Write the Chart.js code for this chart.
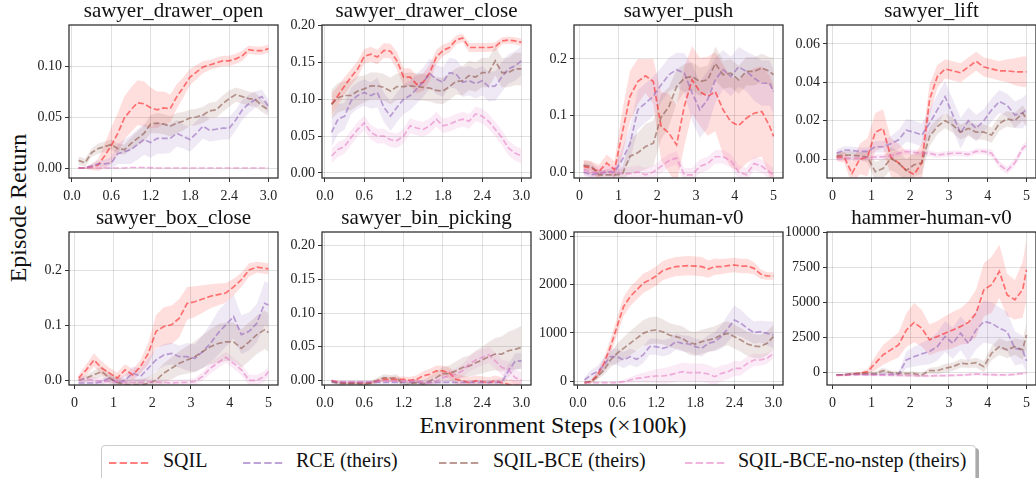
<!DOCTYPE html>
<html>
<head>
<meta charset="utf-8">
<script src="https://cdn.jsdelivr.net/npm/chart.js@4.4.0/dist/chart.umd.min.js"></script>
<style>
  html, body { margin: 0; padding: 0; background: #fff; width: 1036px; height: 478px; overflow: hidden; position: relative; }
  body { font-family: "Liberation Serif", serif; color: #111; }
  canvas { position: absolute; }
  #ylab { position: absolute; left: 18px; top: 208px; font-size: 24px; white-space: nowrap; transform: translate(-50%, -50%) rotate(-90deg); }
  #xlab { position: absolute; left: 553px; top: 425px; font-size: 24px; white-space: nowrap; transform: translate(-50%, -50%); }
  #legend { position: absolute; left: 101px; top: 445px; width: 873px; height: 44px; border: 1px solid #ccc; border-radius: 4px; box-shadow: 3px 3px 0 #aaa; background: #fff; }
  .lg-line { position: absolute; top: 15px; }
  .lg-text { position: absolute; top: 3px; font-size: 20px; white-space: nowrap; color: #111; }
</style>
</head>
<body>
<div id="ylab">Episode Return</div>
<div id="xlab">Environment Steps (×100k)</div>
<div id="legend"></div>
<script>
// series, in legend order
const SERIES = ["SQIL", "RCE (theirs)", "SQIL-BCE (theirs)", "SQIL-BCE-no-nstep (theirs)"];
const LINE = ["rgba(255,0,0,0.5)", "rgba(148,103,189,0.6)", "rgba(140,86,75,0.6)", "rgba(227,119,194,0.55)"];
const BAND = ["rgba(255,0,0,0.13)", "rgba(148,103,189,0.15)", "rgba(140,86,75,0.15)", "rgba(227,119,194,0.15)"];

// x positions (x100k steps)
const xs3 = [0.1,0.2,0.3,0.4,0.5,0.6,0.7,0.8,0.9,1.0,1.1,1.2,1.3,1.4,1.5,1.6,1.7,1.8,1.9,2.0,2.1,2.2,2.3,2.4,2.5,2.6,2.7,2.8,2.9,3.0];
const xs5 = [0.1,0.3,0.5,0.7,0.9,1.1,1.3,1.5,1.7,1.9,2.1,2.3,2.5,2.7,2.9,3.1,3.3,3.5,3.7,3.9,4.1,4.3,4.5,4.7,4.9,5.0];

// tick labels
const xTicks3 = ["0.0", "0.6", "1.2", "1.8", "2.4", "3.0"];
const xTicks5 = ["0", "1", "2", "3", "4", "5"];

// ---- sawyer_drawer_open (SQIL, RCE, SQIL-BCE, no-nstep)
const openMean = [
  [0,0,0.001,0.003,0.012,0.022,0.034,0.049,0.057,0.064,0.063,0.059,0.057,0.059,0.058,0.070,0.079,0.089,0.094,0.099,0.101,0.103,0.105,0.105,0.107,0.110,0.116,0.115,0.115,0.117],
  [0,0,0.002,0.004,0.004,0.005,0.014,0.016,0.018,0.023,0.028,0.025,0.029,0.029,0.029,0.034,0.031,0.028,0.034,0.041,0.037,0.038,0.039,0.039,0.047,0.057,0.063,0.067,0.070,0.060],
  [0.0075,0.005,0.015,0.019,0.021,0.023,0.019,0.018,0.024,0.029,0.034,0.043,0.044,0.043,0.041,0.044,0.046,0.049,0.050,0.052,0.056,0.057,0.063,0.068,0.072,0.070,0.068,0.067,0.061,0.057],
  [0,0,0,0,0,0,0,0,0.0005,0.0005,0.0005,0.0003,0,0,0,0,0,0,0,0,0,0,0,0,0,0,0,0,0,0]
];
const openStd = [
  [0.001,0.001,0.003,0.006,0.012,0.018,0.02,0.021,0.022,0.022,0.022,0.02,0.018,0.016,0.014,0.012,0.01,0.008,0.007,0.006,0.005,0.005,0.005,0.005,0.005,0.005,0.004,0.004,0.004,0.004],
  [0.001,0.001,0.002,0.003,0.004,0.006,0.01,0.012,0.014,0.015,0.015,0.015,0.015,0.015,0.014,0.013,0.012,0.012,0.012,0.012,0.011,0.011,0.011,0.011,0.01,0.01,0.009,0.008,0.007,0.007],
  [0.004,0.004,0.004,0.005,0.005,0.005,0.005,0.005,0.006,0.007,0.008,0.009,0.01,0.01,0.01,0.01,0.009,0.008,0.008,0.008,0.008,0.008,0.008,0.008,0.007,0.007,0.007,0.007,0.006,0.006],
  [0.0005,0.0005,0.0005,0.0005,0.0005,0.0005,0.0005,0.0005,0.0005,0.0005,0.0005,0.0005,0.0005,0.0005,0.0005,0.0005,0.0005,0.0005,0.0005,0.0005,0.0005,0.0005,0.0005,0.0005,0.0005,0.0005,0.0005,0.0005,0.0005,0.0005]
];

// ---- sawyer_drawer_close
const closeMean = [
  [0.093,0.105,0.118,0.130,0.141,0.158,0.161,0.157,0.166,0.165,0.152,0.130,0.130,0.120,0.123,0.136,0.157,0.166,0.170,0.180,0.183,0.170,0.170,0.170,0.170,0.171,0.179,0.180,0.179,0.177],
  [0.055,0.073,0.077,0.098,0.105,0.109,0.105,0.109,0.089,0.077,0.089,0.100,0.105,0.114,0.123,0.135,0.127,0.123,0.136,0.134,0.123,0.125,0.121,0.125,0.117,0.118,0.130,0.141,0.145,0.152],
  [0.093,0.102,0.105,0.105,0.111,0.114,0.118,0.118,0.116,0.111,0.117,0.117,0.118,0.117,0.116,0.115,0.112,0.111,0.117,0.124,0.125,0.132,0.130,0.136,0.136,0.152,0.136,0.136,0.141,0.141],
  [0.023,0.032,0.036,0.048,0.059,0.068,0.055,0.050,0.050,0.045,0.044,0.050,0.064,0.061,0.059,0.064,0.073,0.064,0.066,0.070,0.073,0.070,0.080,0.077,0.070,0.059,0.048,0.034,0.027,0.023]
];
const closeStd = [
  [0.015,0.013,0.012,0.011,0.011,0.01,0.01,0.01,0.01,0.01,0.012,0.012,0.012,0.012,0.012,0.011,0.01,0.008,0.007,0.006,0.006,0.006,0.006,0.006,0.006,0.006,0.005,0.005,0.005,0.005],
  [0.02,0.02,0.018,0.018,0.018,0.018,0.018,0.02,0.02,0.02,0.02,0.02,0.02,0.02,0.02,0.02,0.02,0.02,0.02,0.02,0.02,0.02,0.02,0.02,0.02,0.02,0.02,0.02,0.02,0.02],
  [0.02,0.02,0.02,0.02,0.02,0.018,0.018,0.018,0.018,0.018,0.018,0.018,0.018,0.018,0.018,0.018,0.018,0.018,0.018,0.018,0.02,0.02,0.02,0.02,0.02,0.02,0.02,0.02,0.022,0.022],
  [0.01,0.01,0.01,0.01,0.01,0.01,0.01,0.01,0.01,0.01,0.01,0.01,0.01,0.01,0.01,0.01,0.01,0.01,0.01,0.01,0.01,0.01,0.01,0.01,0.01,0.01,0.01,0.01,0.01,0.01]
];

// ---- sawyer_push
const pushMean = [
  [0.01,0.007,0.001,0.016,0.004,0.069,0.134,0.16,0.17,0.16,0.081,0.069,0.048,0.116,0.163,0.142,0.134,0.142,0.11,0.089,0.082,0.095,0.104,0.107,0.081,0.063],
  [0.0,-0.005,-0.002,0.0,0.0,0.022,0.05,0.11,0.122,0.134,0.154,0.172,0.181,0.175,0.14,0.11,0.128,0.163,0.181,0.169,0.186,0.178,0.166,0.157,0.157,0.142],
  [0.012,0.01,-0.005,-0.005,-0.005,-0.004,0.028,0.034,0.045,0.051,0.097,0.115,0.151,0.166,0.169,0.16,0.163,0.192,0.172,0.175,0.163,0.178,0.178,0.184,0.178,0.172],
  [0.005,0.0,-0.002,0.0,0.0,-0.003,-0.003,0.0,-0.005,0.0,0.01,0.02,0.025,-0.005,-0.005,0.01,0.015,0.027,0.027,0.02,0.0,-0.005,0.015,0.01,0.0,-0.005]
];
const pushStd = [
  [0.012,0.012,0.012,0.015,0.015,0.04,0.045,0.04,0.03,0.04,0.06,0.07,0.07,0.07,0.06,0.06,0.07,0.07,0.08,0.08,0.08,0.08,0.08,0.08,0.09,0.09],
  [0.005,0.005,0.005,0.005,0.008,0.02,0.03,0.035,0.035,0.035,0.03,0.03,0.03,0.035,0.05,0.05,0.05,0.04,0.035,0.035,0.035,0.035,0.04,0.04,0.04,0.04],
  [0.008,0.008,0.008,0.008,0.008,0.01,0.03,0.035,0.04,0.04,0.04,0.035,0.03,0.025,0.025,0.025,0.025,0.03,0.025,0.025,0.025,0.025,0.025,0.025,0.025,0.03],
  [0.012,0.012,0.012,0.012,0.012,0.012,0.012,0.012,0.012,0.012,0.012,0.012,0.012,0.012,0.012,0.012,0.012,0.012,0.012,0.012,0.012,0.012,0.012,0.012,0.012,0.012]
];

// ---- sawyer_lift
const liftMean = [
  [0.001,0.001,-0.0075,0.0,0.001,0.014,0.016,0.001,-0.002,-0.006,-0.008,-0.002,0.031,0.043,0.047,0.046,0.045,0.048,0.051,0.048,0.047,0.046,0.046,0.0455,0.0455,0.0455],
  [0.003,0.0047,0.0044,0.004,0.004,0.0064,0.0064,0.008,0.010,0.015,0.014,0.0125,0.0186,0.0256,0.0325,0.023,0.0134,0.020,0.016,0.020,0.0256,0.030,0.028,0.023,0.024,0.026],
  [0.0016,0.002,0.002,0.0016,0.001,-0.0066,-0.005,0.0003,-0.002,-0.006,-0.003,-0.002,0.0117,0.0169,0.020,0.0177,0.014,0.016,0.014,0.014,0.0125,0.0186,0.021,0.020,0.024,0.021],
  [0.0003,0.0005,0.0005,0.0005,0.0007,0.001,0.0012,0.0016,0.003,0.004,0.0035,0.003,0.003,0.002,0.0026,0.003,0.003,0.0024,0.004,0.004,0.003,-0.003,-0.006,-0.002,0.0056,0.0073]
];
const liftStd = [
  [0.002,0.003,0.006,0.008,0.01,0.01,0.01,0.01,0.01,0.01,0.01,0.01,0.008,0.006,0.005,0.005,0.005,0.005,0.005,0.005,0.005,0.005,0.006,0.007,0.008,0.008],
  [0.002,0.002,0.002,0.002,0.002,0.003,0.003,0.004,0.005,0.006,0.006,0.006,0.007,0.008,0.008,0.008,0.008,0.007,0.007,0.006,0.006,0.006,0.006,0.007,0.008,0.008],
  [0.002,0.002,0.002,0.002,0.003,0.005,0.005,0.006,0.006,0.006,0.006,0.006,0.005,0.004,0.004,0.004,0.004,0.004,0.004,0.004,0.004,0.004,0.004,0.004,0.004,0.004],
  [0.0015,0.0015,0.0015,0.0015,0.0015,0.0015,0.0015,0.0015,0.0015,0.0015,0.0015,0.0015,0.0015,0.0015,0.0015,0.0015,0.0015,0.0015,0.0015,0.0015,0.002,0.002,0.002,0.002,0.002,0.002]
];

// ---- sawyer_box_close
const boxMean = [
  [0.004,0.019,0.037,0.022,0.013,0.004,0.019,0.01,0.025,0.049,0.089,0.098,0.101,0.113,0.140,0.143,0.148,0.153,0.156,0.159,0.170,0.183,0.201,0.206,0.204,0.203],
  [-0.005,-0.005,-0.005,-0.003,0.004,-0.005,0.0,0.013,0.007,0.022,0.037,0.046,0.049,0.043,0.043,0.040,0.052,0.067,0.086,0.101,0.116,0.083,0.089,0.104,0.140,0.137],
  [0.0,0.004,0.01,0.016,0.004,-0.004,-0.008,-0.008,-0.008,-0.006,0.0,0.013,0.022,0.031,0.037,0.043,0.052,0.061,0.067,0.07,0.07,0.058,0.07,0.083,0.092,0.087],
  [0.0,0.002,0.0,-0.002,-0.002,-0.002,-0.003,-0.004,-0.004,-0.003,-0.003,-0.004,-0.005,-0.004,-0.004,-0.002,0.007,0.022,0.032,0.042,0.031,0.019,0.0,0.0,0.007,0.016]
];
const boxStd = [
  [0.005,0.01,0.012,0.012,0.01,0.01,0.01,0.01,0.012,0.02,0.03,0.035,0.035,0.035,0.03,0.028,0.025,0.022,0.02,0.018,0.015,0.013,0.012,0.01,0.01,0.01],
  [0.004,0.004,0.004,0.005,0.006,0.008,0.01,0.012,0.015,0.018,0.02,0.02,0.02,0.02,0.025,0.025,0.03,0.035,0.04,0.04,0.04,0.035,0.035,0.035,0.04,0.04],
  [0.004,0.006,0.008,0.01,0.01,0.01,0.01,0.01,0.01,0.012,0.015,0.018,0.02,0.022,0.025,0.028,0.03,0.032,0.035,0.035,0.035,0.035,0.035,0.035,0.035,0.035],
  [0.006,0.006,0.006,0.006,0.006,0.006,0.006,0.006,0.006,0.006,0.006,0.006,0.006,0.006,0.006,0.006,0.008,0.01,0.01,0.01,0.01,0.01,0.01,0.01,0.01,0.01]
];

// ---- sawyer_bin_picking
const binMean = [
  [-0.001,-0.0025,-0.004,-0.004,-0.004,-0.004,-0.004,-0.001,0.0015,0.0015,0.0015,0.0015,0.0,0.0015,0.0065,0.009,0.014,0.014,0.011,0.0015,-0.001,-0.0035,-0.001,-0.002,-0.0035,-0.001,-0.0035,-0.006,-0.008,-0.008],
  [-0.003,-0.003,-0.003,-0.003,-0.003,-0.003,-0.003,-0.003,-0.003,-0.003,-0.003,-0.003,-0.003,-0.003,-0.003,-0.003,-0.003,-0.003,-0.003,-0.003,-0.003,-0.003,-0.003,-0.003,-0.003,-0.003,-0.003,0.014,0.028,0.029],
  [-0.001,-0.005,-0.005,-0.005,-0.005,-0.007,-0.0035,0.0,0.004,0.003,0.004,-0.008,-0.005,-0.0035,-0.006,-0.001,0.004,0.01,0.01,0.014,0.019,0.021,0.026,0.030,0.035,0.039,0.039,0.044,0.046,0.049],
  [0.0,-0.002,-0.002,-0.002,-0.002,-0.002,-0.002,-0.001,-0.001,-0.001,-0.001,-0.001,-0.001,-0.001,-0.0035,-0.0035,-0.001,0.004,0.0065,0.009,0.014,0.024,0.030,0.034,0.038,0.029,0.019,0.016,0.004,0.0]
];
const binStd = [
  [0.002,0.002,0.002,0.002,0.002,0.002,0.002,0.003,0.003,0.004,0.004,0.004,0.005,0.006,0.007,0.008,0.008,0.008,0.008,0.008,0.008,0.008,0.008,0.008,0.008,0.008,0.008,0.008,0.008,0.008],
  [0.002,0.002,0.002,0.002,0.002,0.002,0.002,0.002,0.002,0.002,0.002,0.002,0.002,0.002,0.002,0.002,0.002,0.002,0.002,0.002,0.003,0.003,0.003,0.003,0.003,0.004,0.006,0.01,0.012,0.012],
  [0.002,0.002,0.002,0.002,0.003,0.003,0.003,0.004,0.005,0.005,0.005,0.005,0.005,0.005,0.006,0.007,0.008,0.01,0.012,0.014,0.015,0.016,0.018,0.02,0.022,0.024,0.026,0.028,0.03,0.032],
  [0.001,0.001,0.001,0.001,0.001,0.001,0.001,0.001,0.001,0.001,0.001,0.001,0.002,0.003,0.004,0.005,0.006,0.007,0.008,0.009,0.01,0.011,0.012,0.012,0.012,0.012,0.012,0.012,0.012,0.012]
];

// ---- door-human-v0
const doorMean = [
  [-35,-14,125,367,714,1130,1545,1753,1892,2030,2100,2183,2294,2342,2377,2390,2398,2390,2377,2328,2377,2377,2398,2412,2390,2390,2342,2225,2183,2183],
  [20,125,194,333,506,506,437,506,450,541,714,714,680,714,818,783,769,714,680,783,818,922,1095,1268,1199,1095,1005,1025,991,956],
  [-35,-14,90,229,437,575,680,783,887,991,1046,1060,1025,956,922,887,797,769,818,852,887,956,991,922,852,769,728,714,783,922],
  [-35,-35,-35,-35,-35,-35,-14,20,55,70,90,104,104,125,160,194,173,173,173,145,90,160,194,263,263,367,437,437,471,575]
];
const doorStd = [
  [20,40,80,120,160,180,200,200,200,200,200,200,200,200,200,200,200,200,200,180,170,160,150,150,150,150,130,100,80,80],
  [60,100,120,150,170,170,170,170,170,170,170,170,170,170,170,170,170,170,170,170,200,250,280,300,280,250,230,230,250,280],
  [20,40,60,100,150,200,230,250,260,270,280,280,260,250,250,250,250,250,250,250,250,250,250,250,250,250,250,250,250,250],
  [10,10,10,10,10,20,40,60,80,100,120,140,160,170,180,190,190,190,190,190,180,170,160,160,150,140,130,120,110,100]
];

// ---- hammer-human-v0
const hammerMean = [
  [-190,-190,-120,-70,50,640,1240,1600,1950,3000,3550,3140,2310,2550,2790,3020,3260,3550,4210,5880,6240,7190,5520,5170,5880,7310],
  [-190,-170,-150,-150,-150,-150,-150,-150,-150,880,1120,1310,1480,1830,2550,2070,2790,2070,3020,3620,3500,3140,2900,1710,1600,800],
  [-190,-170,-120,-100,-100,-100,120,-20,-70,-100,-100,-190,120,120,290,400,640,600,690,400,1360,1830,1600,1830,1600,2670],
  [-220,-200,-180,-170,-180,-190,-200,-210,-220,-230,-240,-260,-250,-240,-230,-220,-200,-170,-120,-150,-170,-180,-190,-150,-80,-20]
];
const hammerStd = [
  [50,60,80,100,200,500,700,800,900,1200,1400,1300,1100,1100,1200,1300,1300,1500,1700,1900,2000,1900,1500,1400,2000,2200],
  [50,50,50,50,50,50,50,50,100,600,700,800,900,1000,1100,1100,1200,1300,1400,1500,1500,1500,1400,1200,1000,800],
  [50,60,80,100,120,150,200,150,150,150,150,150,200,250,300,300,300,300,350,400,500,600,600,600,700,900],
  [100,100,100,100,100,100,100,100,100,100,100,100,100,100,100,100,100,100,100,100,100,100,100,100,100,100]
];

// panel layout: plot-area left/top in page pixels
const COL_X = [69, 322, 574, 827];
const ROW_Y = [25, 232];
const PW = 209, PH = 153;
const Y_AXIS_W = 50, X_AXIS_H = 25, TITLE_H = 24, PAD_R = 12;
const FONT = "Liberation Serif";

const panels = [
  { title: "sawyer_drawer_open", col: 0, row: 0, xs: xs3, xt: xTicks3, xr: [-0.045, 3.145], yr: [-0.0098, 0.1402], yt: ["0.00", "0.05", "0.10"], mean: openMean, std: openStd },
  { title: "sawyer_drawer_close", col: 1, row: 0, xs: xs3, xt: xTicks3, xr: [-0.045, 3.145], yr: [-0.0068, 0.2005], yt: ["0.00", "0.05", "0.10", "0.15", "0.20"], mean: closeMean, std: closeStd },
  { title: "sawyer_push", col: 2, row: 0, xs: xs5, xt: xTicks5, xr: [-0.145, 5.245], yr: [-0.0106, 0.26], yt: ["0.0", "0.1", "0.2"], mean: pushMean, std: pushStd },
  { title: "sawyer_lift", col: 3, row: 0, xs: xs5, xt: xTicks5, xr: [-0.145, 5.245], yr: [-0.0099, 0.0699], yt: ["0.00", "0.02", "0.04", "0.06"], mean: liftMean, std: liftStd },
  { title: "sawyer_box_close", col: 0, row: 1, xs: xs5, xt: xTicks5, xr: [-0.145, 5.245], yr: [-0.0086, 0.27], yt: ["0.0", "0.1", "0.2"], mean: boxMean, std: boxStd },
  { title: "sawyer_bin_picking", col: 1, row: 1, xs: xs3, xt: xTicks3, xr: [-0.045, 3.145], yr: [-0.007, 0.2205], yt: ["0.00", "0.05", "0.10", "0.15", "0.20"], mean: binMean, std: binStd },
  { title: "door-human-v0", col: 2, row: 1, xs: xs3, xt: xTicks3, xr: [-0.06, 3.145], yr: [-83, 3098], yt: ["0", "1000", "2000", "3000"], mean: doorMean, std: doorStd },
  { title: "hammer-human-v0", col: 3, row: 1, xs: xs5, xt: xTicks5, xr: [-0.145, 5.245], yr: [-905, 10000], yt: ["0", "2500", "5000", "7500", "10000"], mean: hammerMean, std: hammerStd }
];

// draws the four spines around the plot area
const spines = {
  id: "spines",
  afterDatasetsDraw(chart) {
    const a = chart.chartArea, ctx = chart.ctx;
    ctx.save();
    ctx.strokeStyle = "#333";
    ctx.lineWidth = 1.3;
    ctx.strokeRect(a.left, a.top, a.right - a.left, a.bottom - a.top);
    ctx.restore();
  }
};

function axis(labels, range, isX) {
  return {
    type: "linear",
    min: range[0],
    max: range[1],
    afterBuildTicks: s => { s.ticks = labels.map(l => ({ value: Number(l) })); },
    afterFit: s => {
      if (isX) s.height = X_AXIS_H; else s.width = Y_AXIS_W;
      s.paddingLeft = 0; s.paddingRight = 0; s.paddingTop = 0; s.paddingBottom = 0;
    },
    ticks: {
      callback: (v, i) => labels[i],
      autoSkip: false, maxRotation: 0,
      padding: isX ? 6 : 3,
      color: "#222",
      font: { family: FONT, size: 14 }
    },
    grid: { color: "rgba(0,0,0,0.12)", lineWidth: 1, tickColor: "#333", tickLength: 4 },
    border: { display: false }
  };
}

panels.forEach(p => {
  const cv = document.createElement("canvas");
  const w = Y_AXIS_W + PW + PAD_R, h = TITLE_H + PH + X_AXIS_H;
  cv.width = w; cv.height = h;
  cv.style.width = w + "px"; cv.style.height = h + "px";
  cv.style.left = (COL_X[p.col] - Y_AXIS_W) + "px";
  cv.style.top = (ROW_Y[p.row] - TITLE_H) + "px";
  document.body.appendChild(cv);

  const lines = [], bands = [];
  p.mean.forEach((m, s) => {
    lines.push({
      data: p.xs.map((x, i) => ({ x, y: m[i] })),
      borderColor: LINE[s], borderWidth: 1.7, borderDash: [6, 2.6],
      pointRadius: 0, fill: false, order: 4 - s, clip: 0
    });
  });
  p.mean.forEach((m, s) => {
    bands.push({
      data: p.xs.map((x, i) => ({ x, y: m[i] + p.std[s][i] })),
      borderWidth: 0, pointRadius: 0, backgroundColor: BAND[s], fill: "+1", order: 14 - s, clip: 0
    });
    bands.push({
      data: p.xs.map((x, i) => ({ x, y: m[i] - p.std[s][i] })),
      borderWidth: 0, pointRadius: 0, fill: false, order: 14 - s, clip: 0
    });
  });

  new Chart(cv, {
    type: "line",
    data: { datasets: lines.concat(bands) },
    options: {
      responsive: false, animation: false, devicePixelRatio: 1,
      layout: { padding: { left: 0, right: PAD_R, top: 0, bottom: 0 } },
      scales: { x: axis(p.xt, p.xr, true), y: axis(p.yt, p.yr, false) },
      plugins: {
        legend: { display: false },
        tooltip: { enabled: false },
        title: {
          display: true, text: p.title, fullSize: false, color: "#111",
          font: { family: FONT, size: 21, weight: "normal", lineHeight: 1 },
          padding: { top: 0, bottom: 3 }
        }
      }
    },
    plugins: [spines]
  });
});

// shared legend below the grid
const lg = document.getElementById("legend");
const LG_LINE_X = [7, 141, 337, 583];
const LG_TEXT_X = [61, 194, 391, 636];
SERIES.forEach((name, s) => {
  const ln = document.createElementNS("http://www.w3.org/2000/svg", "svg");
  ln.setAttribute("width", "40"); ln.setAttribute("height", "4");
  ln.setAttribute("class", "lg-line");
  ln.style.left = LG_LINE_X[s] + "px";
  ln.innerHTML = '<line x1="0" y1="2" x2="40" y2="2" stroke="' + LINE[s] + '" stroke-width="2" stroke-dasharray="7.4 3.2"/>';
  lg.appendChild(ln);
  const tx = document.createElement("div");
  tx.className = "lg-text";
  tx.style.left = LG_TEXT_X[s] + "px";
  tx.textContent = name;
  lg.appendChild(tx);
});
</script>
</body>
</html>
